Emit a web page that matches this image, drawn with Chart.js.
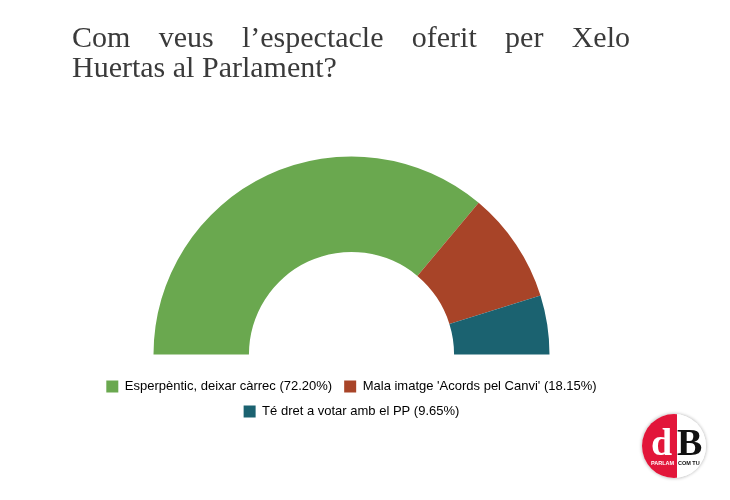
<!DOCTYPE html>
<html>
<head>
<meta charset="utf-8">
<script src="https://cdn.jsdelivr.net/npm/chart.js@4.4.1/dist/chart.umd.min.js"></script>
<style>
  body { margin: 0; background: #fff; }
  #wrap { position: relative; width: 730px; height: 500px; }
  #chart { position: absolute; left: 0; top: 0; }
  .title { position: absolute; left: 72px; width: 558px; font-family: 'Liberation Serif', serif; font-size: 30px; line-height: 30px; color: #3a3a3a; white-space: nowrap; }
  #t1 { top: 22px; text-align: justify; text-align-last: justify; white-space: normal; }
  #t2 { top: 52px; }
  #logo { position: absolute; left: 642px; top: 414px; width: 64px; height: 64px; border-radius: 50%;
          background: linear-gradient(to right, #e2163a 55%, #fff 55%); box-shadow: 0 0 3px 1px #ccc; overflow: hidden; }
  #logo .d { position: absolute; left: 9px; top: 6px; font: bold 38px 'Liberation Serif', serif; color: #fff; }
  #logo .b { position: absolute; left: 35px; top: 6px; font: bold 38px 'Liberation Serif', serif; color: #111; }
  #logo .s1 { position: absolute; left: 9px; top: 46px; font: bold 5.5px 'Liberation Sans Narrow', 'Liberation Sans', sans-serif; color: #fff; }
  #logo .s2 { position: absolute; left: 36px; top: 46px; font: bold 5.5px 'Liberation Sans Narrow', 'Liberation Sans', sans-serif; color: #111; }
</style>
</head>
<body>
<div id="wrap">
  <canvas id="chart" width="730" height="500"></canvas>
  <div class="title" id="t1">Com veus l’espectacle oferit per Xelo</div>
  <div class="title" id="t2">Huertas al Parlament?</div>
  <div id="logo"><span class="d">d</span><span class="b">B</span><span class="s1">PARLAM</span><span class="s2">COM TU</span></div>
</div>
<script>
const categories = ['Esperpèntic, deixar càrrec', "Mala imatge 'Acords pel Canvi'", 'Té dret a votar amb el PP'];
const values = [72.20, 18.15, 9.65];
const colors = ['#6aa84f', '#a84428', '#1b6270'];

const ctx = document.getElementById('chart').getContext('2d');
const chart = new Chart(ctx, {
    type: 'doughnut',
    data: {
        labels: categories,
        datasets: [{
            data: values,
            backgroundColor: colors,
            borderWidth: 0
        }]
    },
    options: {
        responsive: false,
        animation: false,
        rotation: -90,
        circumference: 180,
        cutout: '51.8%',
        radius: 198,
        layout: {
            padding: { top: 143, bottom: 72, left: 0, right: 27 }
        },
        plugins: {
            tooltip: { enabled: false },
            legend: {
                display: true,
                position: 'bottom',
                labels: {
                    font: { family: "'Liberation Sans', Arial, sans-serif", size: 13 },
                    color: '#222',
                    boxWidth: 12,
                    boxHeight: 12,
                    padding: 12,
                    generateLabels: function(chart) {
                        return categories.map((c, i) => ({
                            text: c + ' (' + values[i].toFixed(2) + '%)',
                            fillStyle: colors[i],
                            strokeStyle: colors[i],
                            lineWidth: 0,
                            index: i
                        }));
                    }
                }
            }
        }
    }
});
</script>
</body>
</html>
